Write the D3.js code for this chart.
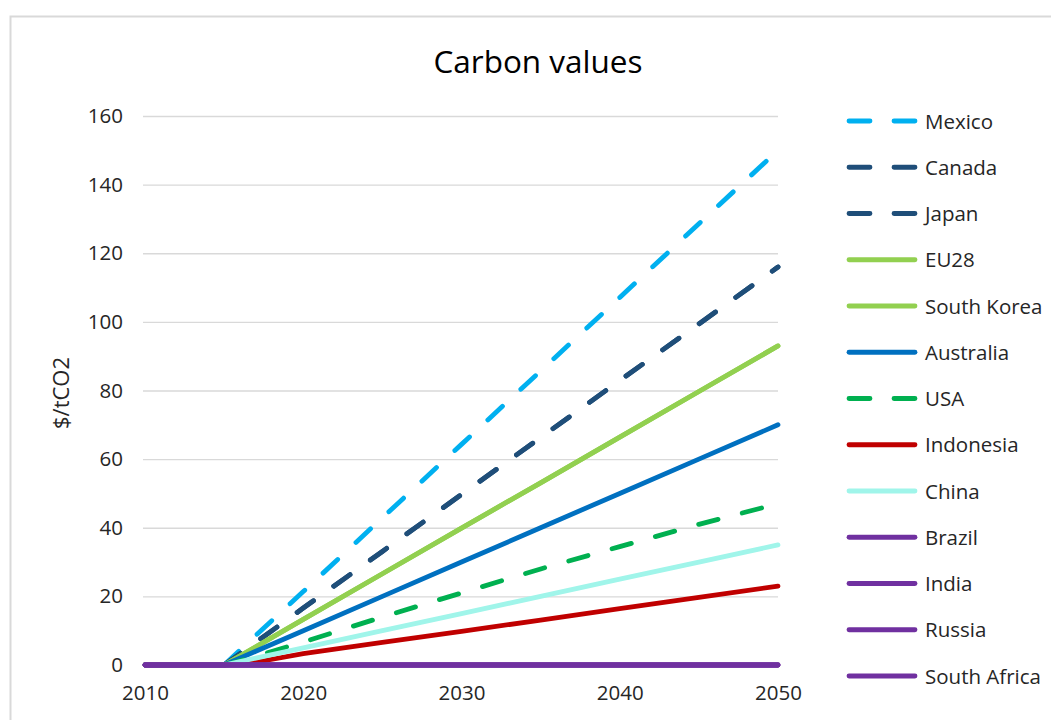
<!DOCTYPE html>
<html>
<head>
<meta charset="utf-8">
<script src="https://cdn.jsdelivr.net/npm/d3@7"></script>
<style>
  body { margin: 0; background: #fff; }
  text { font-family: "Open Sans", "Liberation Sans", sans-serif; }
</style>
</head>
<body>
<div id="chart"></div>
<script>
'use strict';

const years = [2010, 2015, 2017, 2020, 2025, 2030, 2035, 2040, 2045, 2050];

const mexico     = [0, 0, 8.6, 21.4, 42.9, 64.3, 85.7, 107.1, 128.6, 150];
const canada     = [0, 0, 6.6, 16.6, 33.1, 49.7, 66.3, 82.9, 99.4, 116];
const japan      = [0, 0, 6.6, 16.6, 33.1, 49.7, 66.3, 82.9, 99.4, 116];
const eu28       = [0, 0, 5.3, 13.3, 26.6, 39.9, 53.1, 66.4, 79.7, 93];
const southKorea = [0, 0, 5.3, 13.3, 26.6, 39.9, 53.1, 66.4, 79.7, 93];
const australia  = [0, 0, 4, 10, 20, 30, 40, 50, 60, 70];
const usa        = [0, 0, 2.5, 6.7, 14, 21, 28, 34.5, 41, 47];
const indonesia  = [0, 0, 0.8, 3.3, 6.6, 9.8, 13.1, 16.4, 19.7, 23];
const china      = [0, 0, 2, 5, 10, 15, 20, 25, 30, 35];
const brazil     = [0, 0, 0, 0, 0, 0, 0, 0, 0, 0];
const india      = [0, 0, 0, 0, 0, 0, 0, 0, 0, 0];
const russia     = [0, 0, 0, 0, 0, 0, 0, 0, 0, 0];
const southAfrica = [0, 0, 0, 0, 0, 0, 0, 0, 0, 0];

const seriesNames = ["Mexico", "Canada", "Japan", "EU28", "South Korea", "Australia",
    "USA", "Indonesia", "China", "Brazil", "India", "Russia", "South Africa"];
const seriesValues = [mexico, canada, japan, eu28, southKorea, australia,
    usa, indonesia, china, brazil, india, russia, southAfrica];
const seriesColors = ["#00b0f0", "#1f4e79", "#1f4e79", "#92d050", "#92d050", "#0070c0",
    "#00b050", "#c00000", "#a0f5ea", "#7030a0", "#7030a0", "#7030a0", "#7030a0"];
const seriesDashed = [true, true, true, false, false, false,
    true, false, false, false, false, false, false];

const xTicks = [2010, 2020, 2030, 2040, 2050];
const yTicks = [0, 20, 40, 60, 80, 100, 120, 140, 160];

const width = 1051;
const height = 720;
const plot = { left: 145, right: 778, top: 116, bottom: 665 };

const svg = d3.select("#chart")
    .append("svg")
    .attr("width", width)
    .attr("height", height);

// chart border
svg.append("rect")
    .attr("x", 10.5).attr("y", 16.5)
    .attr("width", 1060).attr("height", 760)
    .attr("fill", "none")
    .attr("stroke", "#d9d9d9")
    .attr("stroke-width", 2);

const x = d3.scaleLinear().domain([2010, 2050]).range([plot.left, plot.right]);
const y = d3.scaleLinear().domain([0, 160]).range([plot.bottom, plot.top]);

// gridlines
svg.append("g")
    .attr("transform", `translate(${plot.left - 2},0)`)
    .call(d3.axisLeft(y).tickValues(yTicks).tickSize(-(plot.right - plot.left + 2)).tickFormat(""))
    .call(g => g.select(".domain").remove())
    .call(g => g.selectAll("line").attr("stroke", "#d9d9d9").attr("stroke-width", 1.3));

// y axis labels
svg.append("g")
    .attr("transform", `translate(${plot.left - 2},0)`)
    .call(d3.axisLeft(y).tickValues(yTicks).tickSize(0).tickPadding(20))
    .call(g => g.select(".domain").remove())
    .call(g => g.selectAll("text")
        .attr("fill", "#262626")
        .style("font-size", "20.5px")
        .style("font-family", "'Open Sans', sans-serif"));

// x axis labels
svg.append("g")
    .attr("transform", `translate(0,${plot.bottom})`)
    .call(d3.axisBottom(x).tickValues(xTicks).tickSize(0).tickPadding(20).tickFormat(d3.format("d")))
    .call(g => g.select(".domain").attr("stroke", "#d9d9d9").attr("stroke-width", 1.3))
    .call(g => g.selectAll("text")
        .attr("fill", "#262626")
        .style("font-size", "20.5px")
        .style("font-family", "'Open Sans', sans-serif"));

// lines
const line = d3.line()
    .x(d => x(d[0]))
    .y(d => y(d[1]));

seriesValues.forEach((vals, i) => {
    let pts = years.map((yr, j) => [yr, vals[j]]);
    // dashed series: start the dash pattern where the line leaves zero
    if (seriesDashed[i]) pts = pts.filter(p => p[0] >= 2015);
    svg.append("path")
        .attr("fill", "none")
        .attr("stroke", seriesColors[i])
        .attr("stroke-width", 4.8)
        .attr("stroke-linecap", "round")
        .attr("stroke-linejoin", "round")
        .attr("stroke-dasharray", seriesDashed[i] ? "20,25" : null)
        .attr("d", line(pts));
});

// title
svg.append("text")
    .attr("x", 538).attr("y", 73)
    .attr("text-anchor", "middle")
    .attr("fill", "#000")
    .style("font-size", "31.5px")
    .text("Carbon values");

// y axis title
svg.append("text")
    .attr("transform", "translate(69,393) rotate(-90)")
    .attr("text-anchor", "middle")
    .attr("fill", "#262626")
    .style("font-size", "22px")
    .text("$/tCO2");

// legend
const legend = svg.append("g");
seriesNames.forEach((name, i) => {
    const ly = 121 + i * 46.25;
    legend.append("line")
        .attr("x1", 849).attr("x2", 915)
        .attr("y1", ly).attr("y2", ly)
        .attr("stroke", seriesColors[i])
        .attr("stroke-width", 4.8)
        .attr("stroke-linecap", "round")
        .attr("stroke-dasharray", seriesDashed[i] ? "21,24" : null);
    legend.append("text")
        .attr("x", 925).attr("y", ly + 7.5)
        .attr("fill", "#262626")
        .style("font-size", "20.5px")
        .text(name);
});
</script>
</body>
</html>
